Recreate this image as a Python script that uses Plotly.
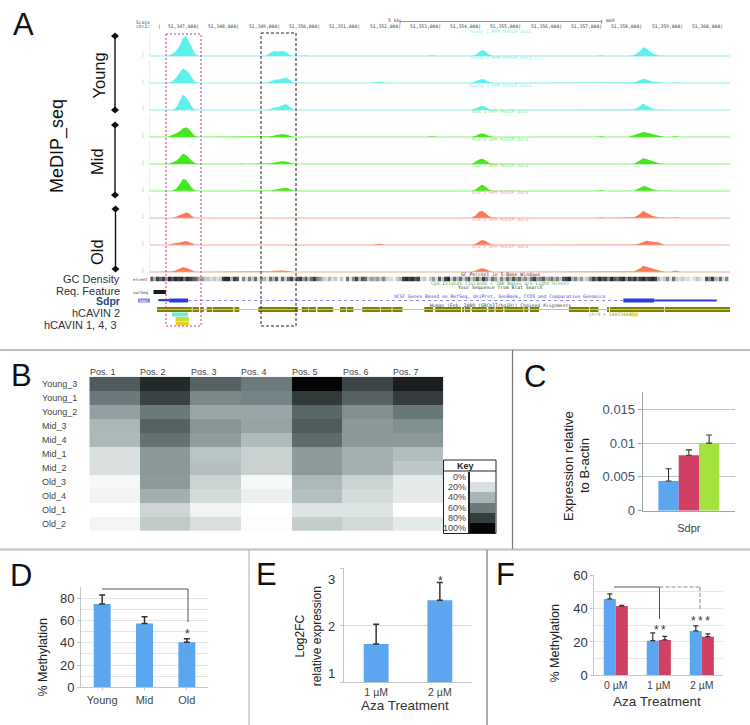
import plotly.graph_objects as go

W, H = 750, 725
SANS = "Liberation Sans"
MONO = "DejaVu Sans Mono"

# ---------- Panel A data (positions in kb from 51,347,000) ----------
genome_ticks = ["51,347,000", "51,348,000", "51,349,000", "51,350,000", "51,351,000", "51,352,000", "51,353,000",
                "51,354,000", "51,355,000", "51,356,000", "51,357,000", "51,358,000", "51,359,000", "51,360,000"]
track_pos = [-1.20,
             -0.82, -0.72, -0.62, -0.52, -0.45, -0.37, -0.30, -0.22, -0.15, -0.05,
             0.90, 1.00, 1.10,
             1.61, 1.71, 1.81, 1.91, 2.01, 2.11, 2.21, 2.31,
             2.50, 2.60, 2.70,
             3.85, 3.97, 4.10,
             4.25, 4.42, 4.60,
             5.60, 5.73, 5.86,
             6.70, 6.80, 6.90, 6.97, 7.05, 7.15, 7.25,
             9.80, 9.93, 10.05,
             10.60, 10.75, 10.90, 10.97, 11.05, 11.20, 11.35, 11.50,
             11.65, 11.76, 11.90,
             13.13]
young_1 = [0, 0, 2, 5, 11, 18, 20, 15, 8, 2, 0, 0, 0, 0, 0, 3, 5, 4.5, 5, 4, 1, 0, 0, .8, 0, 0, .3, 0, 0, 0, 0, 0, .8, 0,
           0, 1, 4, 6, 5, 1.5, 0, 0, .8, 0, 0, 1, 5, 8.7, 7.5, 3, .5, 0, 0, .3, 0, 0]
young_2 = [0, 0, 1.5, 5, 11, 14.3, 13, 10, 5, 1, 0, 0, 0, 0, 0, 1.5, 3, 3.5, 4.5, 5.5, 3, 0, 0, 0, 0, 0, 0, 0, 0, 1.5, 0, 0, 0, 0,
           0, 1.5, 3, 4, 3.5, 1, 0, 0, .4, 0, 0, .5, 3, 4.3, 3.5, 1.5, .8, 0, 0, .6, 0, 0]
young_3 = [0, 0, 0, 2, 9, 15.3, 13, 8, 3, .5, 0, 0, 0, 0, 0, 1, 2.5, 3, 4.5, 6, 3, 0, 0, 0, 0, 0, .3, 0, 0, 0, 0, 0, 0, 0,
           0, 1.5, 3.5, 4.3, 3.5, 1, 0, 0, .5, 0, 0, .5, 4, 6.5, 4.5, 1.5, .3, 0, 0, 0, 0, 0]
mid_1 = [0, 0, 2, 3.5, 6, 8.5, 9.7, 8, 4, 1, 0, 0, 0, 0, 0, .5, 1.5, 2.5, 3, 2.5, 1, 0, 0, 0, 0, 0, 0, 0, 0, 0, 0, 0, .8, 0,
         0, 1, 3, 3.5, 3, 1, 0, 0, .8, 0, 0, 2, 4, 5, 4.5, 3, 1.5, 0, 0, .8, 0, 0]
mid_2 = [0, 0, 1.5, 3, 7, 10.3, 9, 6, 3, 1, 0, 0, .4, 0, 0, .5, 1.5, 2.2, 2.7, 2.5, 1, 0, 0, 0, 0, 0, .3, 0, 0, 0, 0, 0, 0, 0,
         0, 2, 4.5, 5.3, 4, 1, 0, 0, .3, 0, 0, .3, 4, 5.8, 5, 3, 1, 0, 0, 0, 0, 0]
mid_3 = [0, 0, 0, 2, 7, 11.7, 11, 7, 2.5, .5, 0, 0, 0, 0, 0, .3, 1, 1.5, 2, 3, 1.5, 0, 0, 0, 0, 0, .5, 0, 0, 0, 0, 0, .5, 0,
         0, 1, 4.5, 6.3, 4.5, 1, 0, 0, .8, 0, 0, .3, 3, 4.7, 4.2, 1.5, .3, 0, 0, 0, 0, 0]
old_1 = [0, 0, 0, 1, 3, 4.5, 5.3, 4.5, 1.5, .3, 0, 0, 0, 0, 0, .2, .5, .7, .7, .7, .5, 0, 0, 0, 0, 0, 0, 0, 0, 0, 0, 0, .5, 0,
         0, 2, 6, 7, 5, 1.5, 0, 0, .5, 0, 0, .5, 4, 7, 5, 2, .5, 0, 0, .5, 0, 0]
old_2 = [0, 0, 1, 2, 2.5, 3, 3.7, 3, 1.5, .2, 0, 0, 0, 0, 0, .2, .4, .5, .5, .4, .2, 0, 0, 0, 0, 0, .4, 0, 0, 1, 0, 0, .3, 0,
         0, .8, 3, 4.6, 4, 1.5, 0, 0, .3, 0, 0, .3, 1.5, 2.5, 4, 3, 2.5, 0, 0, 0, 0, 0]
old_3 = [0, 0, .5, 1.5, 3, 4.5, 4, 3, 1.5, .3, 0, 0, 0, 0, 0, .5, 1, 1.3, 1.2, 1, .5, 0, 0, 0, 0, 0, 0, 0, 0, 0, 0, 0, 0, 0,
         0, 1, 2.5, 3.5, 3, 1, 0, 0, .3, 0, 0, .5, 3.5, 6, 5, 3, 1.5, 0, 0, 1.2, 0, 0]
track_names = ["Young 1", "Young 2", "Young 3", "Mid 1", "Mid 2", "Mid 3", "Old 1", "Old 2", "Old 3"]
track_values = [young_1, young_2, young_3, mid_1, mid_2, mid_3, old_1, old_2, old_3]

gc_density = [7, 3, 8, 6, 8, 4, 9, 7, 9, 8, 9, 6, 9, 8, 7, 6, 3, 4, 2, 2, 1, 2, 1, 2, 8, 9, 9, 3, 8, 7, 0, 5, 1,
              5, 2, 6, 1, 4, 3, 1, 6, 3, 7, 1, 6, 2, 6, 8, 3, 7, 8, 4, 7, 3, 6, 8, 5, 4, 2, 1, 3, 1, 2, 0, 2, 0, 6, 1,
              5, 8, 3, 7, 6, 2, 4, 3, 4, 2, 5, 2, 1, 1, 0, 2, 3, 8, 9, 8, 9, 7, 8, 1, 2, 0, 2, 4, 1, 7, 2, 8, 9, 2, 6,
              3, 6, 2, 5, 7, 2, 4, 7, 3, 8, 5, 2, 6, 4, 1, 5, 2, 6, 3, 7, 4, 6, 3, 5, 2, 6, 8, 4, 5, 7, 3,
              4, 6, 3, 5, 2, 7, 8, 9, 3, 5, 2, 4, 1, 2, 5, 8, 6, 9, 7, 8, 5, 9, 7, 6, 8, 9, 5, 8, 7, 9, 6, 8, 9, 7, 8, 9, 8,
              3, 1, 2, 5, 1, 6, 2, 1, 2, 1, 1, 0, 1, 2, 1, 0, 7, 5, 8, 3, 2, 6, 1, 5]

chain_start = [-1.09, -0.21, -0.02, 0.14, 0.29, 0.83, 1.42, 2.50, 2.67, 2.89, 3.45, 3.62, 4.00, 4.46, 4.75, 5.54, 5.81,
               6.48, 6.55, 6.72, 7.13, 7.31, 7.53, 8.02, 8.16, 9.13, 9.65, 10.09, 10.15, 11.51]
chain_end = [-0.23, -0.05, 0.07, 0.27, 0.80, 0.95, 2.41, 2.66, 2.85, 3.28, 3.60, 3.78, 4.44, 4.73, 5.00, 5.76, 6.45,
             6.53, 6.68, 7.09, 7.28, 7.50, 8.00, 8.12, 8.39, 9.63, 9.86, 10.12, 11.49, 13.13]
gene_start = [-1.06, -0.79, 10.48, 11.25]
gene_end = [-0.79, -0.32, 11.25, 12.80]
gene_thick = [1.5, 4, 4, 2]
blat_start, blat_end = [-1.18], [-0.87]
cavin_names = ["hCAVIN 2", "hCAVIN 1", "hCAVIN 4", "hCAVIN 3"]
cavin_start = [-0.72, -0.63, -0.63, 10.66]
cavin_end = [-0.32, -0.30, -0.30, 10.84]
cavin_row = [24.5, 29, 33.5, 24.5]
cavin_color = ["#6fe8dc", "#c4dd33", "#f2c81e", "#f5dc3c"]

# ---------- Panel B data ----------
heat_rows = ["Young_3", "Young_1", "Young_2", "Mid_3", "Mid_4", "Mid_1", "Mid_2", "Old_3", "Old_4", "Old_1", "Old_2"]
heat_cols = ["Pos. 1", "Pos. 2", "Pos. 3", "Pos. 4", "Pos. 5", "Pos. 6", "Pos. 7"]
heat_values = [[70, 87, 68, 60, 100, 77, 91],
               [60, 78, 55, 57, 81, 68, 80],
               [47, 60, 45, 45, 66, 53, 61],
               [39, 68, 51, 46, 70, 50, 53],
               [38, 63, 48, 37, 65, 50, 50],
               [20, 50, 33, 27, 49, 42, 36],
               [20, 50, 35, 27, 49, 42, 31],
               [5, 49, 26, 4, 38, 26, 14],
               [7, 42, 23, 10, 35, 22, 13],
               [0, 25, 8, 0, 18, 18, 0],
               [6, 30, 20, 1, 29, 23, 14]]
key_labels = ["0%", "20%", "40%", "60%", "80%", "100%"]
key_values = [0, 20, 40, 60, 80, 100]

# ---------- Bar panels data ----------
c_names = ["Sdpr"]
c_values = [0.0044, 0.0082, 0.0100]
c_errors = [0.0018, 0.0008, 0.0012]
d_names = ["Young", "Mid", "Old"]
d_values = [75, 57.5, 40.5]
d_errors = [8, 6, 3.3]
e_names = ["1 µM", "2 µM"]
e_values = [1.67, 2.44]
e_errors = [0.35, 0.31]
f_names = ["0 µM", "1 µM", "2 µM"]
f_blue = [45.8, 20.8, 26.6]
f_blue_err = [3, 4.6, 3]
f_red = [41.6, 21.2, 23.2]
f_red_err = [0.4, 2.2, 1.6]

BLUE, RED, GREEN = "#5ba6ee", "#d03f64", "#a3e23f"
GENOME_RANGE = [-1.266, 13.127]
HEAT_SCALE = [[0, "#ffffff"], [.2, "#d9e0df"], [.4, "#a8b5b5"], [.6, "#6b7a7c"], [.8, "#343c3e"], [1, "#050505"]]

fig = go.Figure()
layout = dict(template="none", width=W, height=H, margin=dict(l=0, r=0, t=0, b=0, pad=0, autoexpand=False), autosize=False,
              paper_bgcolor="white", plot_bgcolor="rgba(0,0,0,0)", showlegend=False, barmode="overlay",
              font=dict(family=SANS, color="#333"))
shapes, notes = [], []
axis_count = [0]


def X(px):
    return px / W


def Y(px):
    return 1 - px / H


def axes(x0, x1, y_top, y_bottom, xopt=None, yopt=None):
    axis_count[0] += 1
    n = axis_count[0]
    xa = dict(domain=[X(x0), X(x1)], anchor=f"y{n}", showgrid=False, zeroline=False, fixedrange=True)
    ya = dict(domain=[Y(y_bottom), Y(y_top)], anchor=f"x{n}", showgrid=False, zeroline=False, fixedrange=True)
    xa.update(xopt or {})
    ya.update(yopt or {})
    layout[f"xaxis{n}"] = xa
    layout[f"yaxis{n}"] = ya
    return f"x{n}", f"y{n}"


def text(x, y, s, size=10, color="#333", family=SANS, anchor="center", angle=0, bold=False):
    notes.append(dict(x=X(x), y=Y(y), xref="paper", yref="paper", text=f"<b>{s}</b>" if bold else s, showarrow=False,
                      xanchor=anchor, yanchor="middle", textangle=angle, font=dict(size=size, color=color, family=family),
                      borderpad=0, borderwidth=0))


def line(x0, y0, x1, y1, color="#555", width=1, dash="solid"):
    shapes.append(dict(type="line", xref="paper", yref="paper", x0=X(x0), y0=Y(y0), x1=X(x1), y1=Y(y1),
                       line=dict(color=color, width=width, dash=dash)))


def rect(x0, y0, x1, y1, color="#000", width=1, dash="solid", fill="rgba(0,0,0,0)"):
    shapes.append(dict(type="rect", xref="paper", yref="paper", x0=X(x0), y0=Y(y0), x1=X(x1), y1=Y(y1),
                       line=dict(color=color, width=width, dash=dash), fillcolor=fill))


def diamond(x, y):
    p = f"M {X(x-4)} {Y(y)} L {X(x)} {Y(y-3.5)} L {X(x+4)} {Y(y)} L {X(x)} {Y(y+3.5)} Z"
    shapes.append(dict(type="path", xref="paper", yref="paper", path=p, fillcolor="#111", line=dict(color="#111", width=0)))


# ---------- Panel dividers and letters ----------
line(0, 350, 750, 350, "#bdbdbd", 2)
line(0, 549.5, 750, 549.5, "#bdbdbd", 2)
line(512.5, 350, 512.5, 549, "#777", 1.2)
line(249, 550, 249, 725, "#b5b5b5", 1.2)
line(487, 550, 487, 725, "#777", 1.2)
for letter, x, y in [("A", 23, 25), ("B", 21, 375), ("C", 535, 376), ("D", 21, 575), ("E", 266, 574), ("F", 505, 574)]:
    text(x, y, letter, 31, "#111")

# ---------- Panel A ----------
gx, gy0 = axes(150, 730, 290, 330, dict(range=GENOME_RANGE, visible=False), dict(visible=False))
x_ref = gx
for i, tick in enumerate(genome_ticks):
    notes.append(dict(x=i, y=Y(27), xref=x_ref, yref="paper", text=tick + "|", showarrow=False, xanchor="right", yanchor="middle",
                      font=dict(size=4.7, color="#444", family=MONO)))
text(136, 22, "Scale", 4.7, "#444", MONO, "left")
text(136, 27, "chr1:", 4.7, "#444", MONO, "left")
text(159, 27, "|", 4.7, "#444", MONO)
text(393, 21, "5 kb", 4.7, "#444", MONO)
line(400, 21.5, 601.7, 21.5, "#999", 1)
line(400, 19.5, 400, 23.5, "#666", 0.7)
line(601.7, 19.5, 601.7, 23.5, "#666", 0.7)
text(610, 21, "mm9", 4.7, "#444", MONO)

track_base = [56, 83, 110, 137, 164, 190.7, 217.7, 244.7, 271.7]
track_fill = ["#5ff0ec"] * 3 + ["#44e81e"] * 3 + ["#f97a55"] * 3
track_zero = ["#c6f7f4"] * 3 + ["#c4f8bc"] * 3 + ["#f8d6ce"] * 3
track_text = ["#8ceee8"] * 3 + ["#86ee78"] * 3 + ["#f3a79a"] * 3
for name, vals, base, fc, zc, tc in zip(track_names, track_values, track_base, track_fill, track_zero, track_text):
    axis_count[0] += 1
    n = axis_count[0]
    layout[f"yaxis{n}"] = dict(domain=[Y(base + 1), Y(base - 23)], range=[-1, 23], anchor=gx, fixedrange=True,
                               showgrid=False, zeroline=True, zerolinecolor=zc, zerolinewidth=2,
                               showline=True, linecolor="#f6e6f0", linewidth=1, tickmode="array", tickvals=[0, 3],
                               ticktext=["0 -", "1 -"], ticklen=0, tickfont=dict(size=3.6, color=tc, family=MONO))
    fig.add_trace(go.Scatter(x=track_pos, y=vals, xaxis=gx, yaxis=f"y{n}", mode="lines", fill="tozeroy",
                             line=dict(color=fc, width=0), fillcolor=fc, hoverinfo="skip", name=name))
    text(500, base - 25, f"{name} RPM MeDIP data", 4.7, tc, MONO)

# GC density row
axis_count[0] += 1
n = axis_count[0]
layout[f"yaxis{n}"] = dict(domain=[Y(281.5), Y(276.5)], anchor=gx, visible=False, range=[-0.5, 0.5], fixedrange=True)
gc_step = (13.13 + 1.22) / len(gc_density)
fig.add_trace(go.Heatmap(z=[gc_density], x0=-1.22, dx=gc_step, xaxis=gx, yaxis=f"y{n}", showscale=False, zmin=0, zmax=9,
                         colorscale=[[0, "#f2f4f4"], [1, "#2a2a2a"]], hoverinfo="skip"))

# annotation rows
layout[gy0.replace("y", "yaxis")].update(range=[40, 0])
fig.add_trace(go.Bar(base=blat_start, x=[e - s for s, e in zip(blat_start, blat_end)], y=[2], width=[4], orientation="h",
                     xaxis=gx, yaxis=gy0, marker=dict(color="#1d1d1d", line=dict(width=0)), hoverinfo="skip"))
fig.add_trace(go.Scatter(x=[gene_end[1], gene_start[2]], y=[10.5, 10.5], xaxis=gx, yaxis=gy0, mode="lines",
                         line=dict(color="#8a8af5", width=1, dash="dot"), hoverinfo="skip"))
fig.add_trace(go.Bar(base=gene_start, x=[e - s for s, e in zip(gene_start, gene_end)], y=[10.5] * 4, width=gene_thick,
                     orientation="h", xaxis=gx, yaxis=gy0, marker=dict(color="#2a3fd8", line=dict(width=0)), hoverinfo="skip"))
fig.add_trace(go.Scatter(x=[chain_start[0], chain_end[-1]], y=[19.5, 19.5], xaxis=gx, yaxis=gy0, mode="lines",
                         line=dict(color="#bfc884", width=1), hoverinfo="skip"))
fig.add_trace(go.Bar(base=chain_start, x=[e - s for s, e in zip(chain_start, chain_end)], y=[19.5] * len(chain_start),
                     width=[5] * len(chain_start), orientation="h", xaxis=gx, yaxis=gy0,
                     marker=dict(color="#7f7f00", line=dict(width=0)), hoverinfo="skip"))
fig.add_trace(go.Bar(base=cavin_start, x=[e - s for s, e in zip(cavin_start, cavin_end)],
                     y=cavin_row, width=[4] * 4, orientation="h", xaxis=gx, yaxis=gy0,
                     marker=dict(color=cavin_color, line=dict(width=0)), hoverinfo="skip", text=cavin_names, textposition="none"))

text(500, 274.3, "GC Percent in 5-Base Windows", 4.7, "#333", MONO)
text(500, 283.3, "CpG Islands (Islands &lt; 300 Bases are Light Green)", 4.7, "#4aa84a", MONO)
text(500, 287.7, "Your Sequence from Blat Search", 4.7, "#333", MONO)
text(500, 296.7, "UCSC Genes Based on RefSeq, UniProt, GenBank, CCDS and Comparative Genomics", 4.7, "#4a4ab8", MONO)
text(500, 305.3, "Human (Feb. 2009 (GRCh37/hg19)) Chained Alignments", 4.7, "#444", MONO)
text(610, 314.4, "chr9 + 14033404", 4.7, "#a0a020", MONO)
text(133, 279, "ercent", 4.2, "#444", MONO, "left")
text(133, 292, "ourSeq", 4.2, "#444", MONO, "left")
rect(138, 298.5, 150, 302.5, "#7f7ff0", 0, fill="#7f7ff0")
text(144, 300.5, "Sdpr", 3.8, "#ffffff", MONO)

rect(166, 34, 201, 326, "#c0389a", 1, "2px,2px")
rect(261, 33, 296, 326, "#222", 1, "3px,2px")

for x, y0, y1 in [(115, 36, 110), (115, 125, 195), (115.5, 209, 269)]:
    line(x, y0, x, y1, "#111", 1.4)
    diamond(x, y0)
    diamond(x, y1)
text(98, 75.5, "Young", 16.5, "#111", angle=-90)
text(97, 162, "Mid", 16.5, "#111", angle=-90)
text(97, 252, "Old", 16.5, "#111", angle=-90)
text(57, 146, "MeDIP_seq", 18, "#111", angle=-90)
text(120, 279, "GC Density", 11, "#333", anchor="right")
text(120, 291, "Req. Feature", 11, "#333", anchor="right")
text(120, 301, "Sdpr", 10.5, "#1f4a80", anchor="right", bold=True)
text(120, 312.5, "hCAVIN 2", 11, "#333", anchor="right")
text(117, 324.5, "hCAVIN 1, 4, 3", 11, "#333", anchor="right")

# ---------- Panel B ----------
hx, hy = axes(89.3, 443.3, 376.7, 531,
              dict(type="category", categoryorder="array", categoryarray=heat_cols, showticklabels=False, ticks=""),
              dict(type="category", categoryorder="array", categoryarray=heat_rows, autorange="reversed",
                   showticklabels=False, ticks=""))
fig.add_trace(go.Heatmap(z=heat_values, x=heat_cols, y=heat_rows, xaxis=hx, yaxis=hy, colorscale=HEAT_SCALE, zmin=0, zmax=100,
                         showscale=False, hoverinfo="skip"))
for row in heat_rows:
    notes.append(dict(x=X(39.5), y=row, xref="paper", yref=hy, text=row, showarrow=False, xanchor="left", yanchor="middle",
                      font=dict(size=9, color="#444", family=SANS)))
for i, col in enumerate(heat_cols):
    text(89.7 + 50.57 * i, 371.7, col, 9, "#444", anchor="left")

kx, ky = axes(469.5, 495.5, 471.5, 533,
              dict(type="category", showticklabels=False, ticks=""),
              dict(type="category", categoryorder="array", categoryarray=key_labels, autorange="reversed",
                   tickmode="array", tickvals=key_labels, ticktext=key_labels,
                   tickfont=dict(size=9, color="#444", family=SANS), ticks="", showline=True, linecolor="#222", linewidth=1.5))
fig.add_trace(go.Heatmap(z=[[v] for v in key_values], x=["Key"], y=key_labels, xaxis=kx, yaxis=ky, colorscale=HEAT_SCALE,
                         zmin=0, zmax=100, showscale=False, hoverinfo="skip"))
rect(443.5, 460, 496, 533.5, "#222", 1)
line(443.5, 471, 496, 471, "#222", 1)
text(465, 466, "Key", 9, "#222", bold=True)

# ---------- Panel C ----------
cx, cy = axes(642.7, 735, 391.7, 510.7,
              dict(type="category", range=[-0.5, 0.5], showline=True, linecolor="#9aa8a5", ticks="outside", ticklen=7,
                   tickcolor="rgba(0,0,0,0)", tickfont=dict(size=11, color="#444")),
              dict(range=[0, 0.0176], tickmode="array", tickvals=[0, .005, .01, .015], ticktext=["0", "0.005", "0.01", "0.015"],
                   showgrid=True, gridcolor="#b7c5c2", gridwidth=1, showline=True, linecolor="#9aa8a5", ticks="outside",
                   ticklen=4, tickcolor="#9aa8a5", tickfont=dict(size=13, color="#44546a")))
for v, e, col, off in zip(c_values, c_errors, [BLUE, RED, GREEN], [-0.33, -0.11, 0.11]):
    fig.add_trace(go.Bar(x=c_names, y=[v], xaxis=cx, yaxis=cy, width=0.22, offset=off, marker=dict(color=col, line=dict(width=0)),
                         error_y=dict(type="data", symmetric=False, array=[e], arrayminus=[0], color="#333", thickness=1.1, width=3),
                         hoverinfo="skip"))
text(568, 466, "Expression relative", 13, "#222", angle=-90)
text(584, 466, "to B-actin", 13, "#222", angle=-90)

# ---------- Panel D ----------
BAR_X = dict(type="category", showline=True, linecolor="#c0c8c8", ticks="outside", ticklen=2, tickcolor="#c0c8c8")
dx, dy = axes(81, 208, 587.3, 687.3,
              dict(BAR_X, tickfont=dict(size=11, color="#444")),
              dict(range=[0, 90], tick0=0, dtick=20, showgrid=True, gridcolor="#dfe6e6", gridwidth=1, showline=True, linecolor="#c0c8c8",
                   ticks="outside", ticklen=3, tickcolor="#c0c8c8", tickfont=dict(size=13, color="#333"),
                   minor=dict(dtick=10, showgrid=True, gridcolor="#dfe6e6", gridwidth=1)))
fig.add_trace(go.Bar(x=d_names, y=d_values, xaxis=dx, yaxis=dy, width=0.4, offset=-0.2, marker=dict(color=BLUE, line=dict(width=0)),
                     error_y=dict(type="data", symmetric=False, array=d_errors, arrayminus=[0, 0, 0], color="#333", thickness=1.5, width=3),
                     hoverinfo="skip"))
text(42.5, 657, "% Methylation", 12.5, "#222", angle=-90)
line(102, 589, 188, 589, "#555", 1)
line(188, 589, 188, 622, "#555", 1)
text(187.5, 634, "*", 12, "#333")

# ---------- Panel E ----------
ex, ey = axes(344.3, 471.7, 568.3, 682.3,
              dict(BAR_X, ticklen=0, tickfont=dict(size=10.5, color="#444")),
              dict(range=[1, 3], tickmode="array", tickvals=[1, 2, 3], showticklabels=False, showgrid=True,
                   gridcolor="#d5dcdc", gridwidth=1, showline=True, linecolor="#c0c8c8", ticks="outside", ticklen=3,
                   tickcolor="#c0c8c8"))
fig.add_trace(go.Bar(x=e_names, y=e_values, xaxis=ex, yaxis=ey, width=0.39, offset=-0.195, marker=dict(color=BLUE, line=dict(width=0)),
                     error_y=dict(type="data", symmetric=False, array=e_errors, arrayminus=[0, 0], color="#333", thickness=1.5, width=3),
                     hoverinfo="skip"))
for lbl, y in [("3", 579), ("2", 626), ("1", 673)]:
    text(335, y, lbl, 13, "#333", anchor="right")
text(299, 636.5, "Log2FC", 12, "#222", angle=-90)
text(316.7, 636.5, "relative expression", 12, "#222", angle=-90)
text(405, 705.5, "Aza Treatment", 13.5, "#333")
text(440, 581, "*", 12, "#333")

# ---------- Panel F ----------
fx, fy = axes(594.3, 723.3, 575.3, 675.3,
              dict(BAR_X, ticklen=0, tickfont=dict(size=10.5, color="#444")),
              dict(range=[0, 60], tick0=0, dtick=20, showgrid=True, gridcolor="#e3e9e9", gridwidth=1, showline=True, linecolor="#c0c8c8",
                   ticks="outside", ticklen=3, tickcolor="#c0c8c8", tickfont=dict(size=13, color="#333"),
                   minor=dict(dtick=10, showgrid=True, gridcolor="#e3e9e9", gridwidth=1)))
for vals, errs, col, off in [(f_blue, f_blue_err, BLUE, -0.28), (f_red, f_red_err, RED, 0)]:
    fig.add_trace(go.Bar(x=f_names, y=vals, xaxis=fx, yaxis=fy, width=0.28, offset=off, marker=dict(color=col, line=dict(width=0)),
                         error_y=dict(type="data", symmetric=False, array=errs, arrayminus=[0, 0, 0], color="#333", thickness=1.2, width=2.5),
                         hoverinfo="skip"))
text(554, 643.5, "% Methylation", 12.5, "#222", angle=-90)
text(657, 701.5, "Aza Treatment", 13.5, "#333")
line(614, 587, 659.5, 587, "#555", 1)
line(659.5, 587, 659.5, 619, "#555", 1)
line(659.5, 587, 700, 587, "#888", 1, "4px,2px")
line(700, 587, 700, 609, "#888", 1, "4px,2px")
text(660, 630, "*\u2009*", 12, "#333")
text(700, 620.5, "*\u2009*\u2009*", 12, "#333")

layout["shapes"] = shapes
layout["annotations"] = notes
fig.update_layout(**layout)
fig.write_html("out.html", config=dict(displayModeBar=False),
               post_script="document.body.style.margin='0';document.body.style.overflow='hidden';")
